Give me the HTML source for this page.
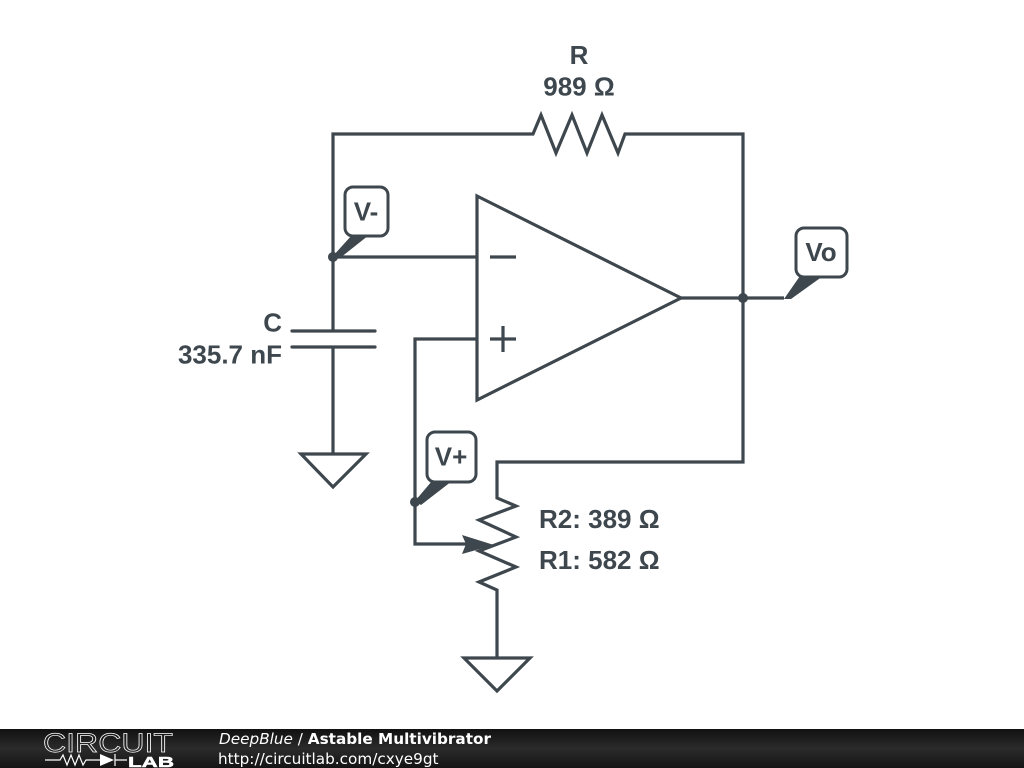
<!DOCTYPE html>
<html><head><meta charset="utf-8"><style>
html,body{margin:0;padding:0;background:#fff;width:1024px;height:768px;overflow:hidden}
svg{display:block}
.l{font-family:"Liberation Sans",sans-serif;font-weight:bold;font-size:26px;fill:#3d474d}
.d{font-family:"DejaVu Sans",sans-serif;font-size:15.25px;fill:#fff}
</style></head><body>
<svg width="1024" height="768" viewBox="0 0 1024 768" xmlns="http://www.w3.org/2000/svg">
<defs><linearGradient id="g" x1="0" y1="0" x2="0" y2="1"><stop offset="0" stop-color="#111"/><stop offset="0.5" stop-color="#2b2b2b"/><stop offset="1" stop-color="#141414"/></linearGradient></defs>
<g fill="none" stroke="#3d474d" stroke-width="3.2" stroke-linejoin="miter">
<path d="M333 257V134H533L541 115L556 153L572 115L587 153L602 115L618 153L625 134H743V462H497V498L516 506L479 520L516 537L479 551L516 567L479 582L497 590V658"/>
<path d="M477 196L681 298L477 400Z"/>
<path d="M333 257H477M681 298H784"/>
<path d="M490 257H516M490 339H516M503 326V352"/>
<path d="M477 339H415V544H470"/>
<path d="M333 257V331M333 347V454"/>
<path d="M292 331H375M292 347H375" stroke-linecap="round"/>
<path d="M301 454H366L333 487Z"/>
<path d="M464 658H530L497 691Z"/>
</g>
<path d="M494 545L462 535L466 544L462 554Z" fill="#3d474d"/>
<g fill="#3d474d">
<circle cx="333" cy="257" r="5"/><circle cx="743" cy="298" r="5"/><circle cx="415" cy="502" r="5"/>
<path d="M333 256L352 235H369L340 258Z"/>
<path d="M415 501L432 481H452L421 505Z"/>
<path d="M784 299L800 276H823L791 299Z"/>
</g>
<g fill="#fff" stroke="#3d474d" stroke-width="3">
<rect x="345" y="187" width="43" height="49" rx="8"/>
<rect x="427" y="432" width="49" height="50" rx="8"/>
<rect x="796" y="228" width="51" height="49" rx="8"/>
</g>
<text class="l" x="579" y="64" text-anchor="middle">R</text>
<text class="l" x="579" y="95.5" text-anchor="middle">989 Ω</text>
<text class="l" x="282" y="331.5" text-anchor="end">C</text>
<text class="l" x="282" y="363.5" text-anchor="end">335.7 nF</text>
<text class="l" x="539" y="528">R2: 389 Ω</text>
<text class="l" x="539" y="569">R1: 582 Ω</text>
<text class="l" x="366" y="220.5" text-anchor="middle">V-</text>
<text class="l" x="451" y="465.5" text-anchor="middle">V+</text>
<text class="l" x="821" y="261" text-anchor="middle">Vo</text>
<rect x="0" y="729" width="1024" height="39" fill="url(#g)"/>
<text x="43" y="752" font-family="Liberation Sans,sans-serif" font-size="27" fill="none" stroke="#fff" stroke-width="0.7" textLength="130" lengthAdjust="spacingAndGlyphs">CIRCUIT</text>
<text x="128" y="767" font-family="Liberation Sans,sans-serif" font-weight="bold" font-size="15" fill="#fff" stroke="#fff" stroke-width="0.5" textLength="46" lengthAdjust="spacingAndGlyphs">LAB</text>
<path d="M45 760H60L63 755L67 765L71 755L75 765L79 755L83 765L86 760H100M115 760H127M115 754V766" fill="none" stroke="#fff" stroke-width="1.2"/>
<path d="M100 754L114 760L100 766Z" fill="#fff"/>
<text class="d" x="219" y="744"><tspan font-style="italic">DeepBlue</tspan> / <tspan font-weight="bold">Astable Multivibrator</tspan></text>
<text class="d" x="218" y="764">http://circuitlab.com/cxye9gt</text>
</svg>
</body></html>
